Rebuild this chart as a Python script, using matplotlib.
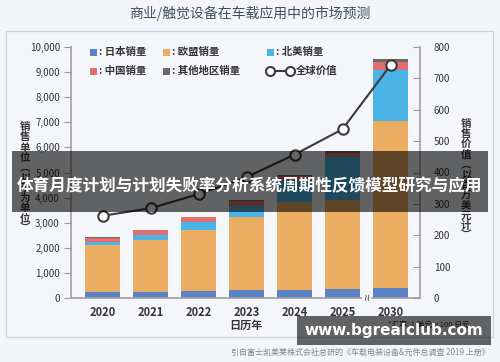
import matplotlib
matplotlib.use("Agg")
import matplotlib.pyplot as plt
from matplotlib.patches import Rectangle
from matplotlib.lines import Line2D
import numpy as np

plt.rcParams['font.family'] = ['Noto Sans CJK SC', 'DejaVu Sans']

years = ['2020', '2021', '2022', '2023', '2024', '2025', '2030']
japan = [250, 240, 290, 320, 330, 350, 410]
eu = [1850, 2080, 2430, 2900, 3490, 3550, 6640]
na = [150, 190, 310, 460, 900, 1700, 2030]
china = [160, 190, 180, 170, 130, 160, 310]
other = [20, 20, 20, 40, 50, 80, 150]
value = [262, 286, 331, 385, 457, 538, 742]

series_names = ['日本销量', '欧盟销量', '北美销量', '中国销量', '其他地区销量']
colors = ['#5b82c2', '#ebad62', '#4bb4e6', '#e06f6f', '#6a6a6a']
left_ticks = [0, 1000, 2000, 3000, 4000, 5000, 6000, 7000, 8000, 9000, 10000]
right_ticks = [0, 100, 200, 300, 400, 500, 600, 700, 800]

W, H = 500, 362
fig = plt.figure(figsize=(W / 100, H / 100), dpi=100)
bg = '#f3f5f8'
fig.patch.set_facecolor(bg)

def fx(px):
    return px / W

def fy(py):
    return 1 - py / H

# panel border
fig.add_artist(Rectangle((fx(6), fy(337)), fx(493) - fx(6), fy(31) - fy(337),
                         transform=fig.transFigure, facecolor='#f4f6f9',
                         edgecolor='#cfd3d8', lw=0.9, zorder=0))

fig.text(0.5, fy(13), '商业/触觉设备在车载应用中的市场预测', ha='center', va='center',
         fontsize=10, color='#3e4f62')

ax = fig.add_axes([fx(71), fy(298), fx(420) - fx(71), fy(47) - fy(298)])
ax.set_facecolor('none')
x = np.arange(len(years))
bw = 35 / 48
bottom = np.zeros(len(years))
for vals, c in zip([japan, eu, na, china, other], colors):
    ax.bar(x, vals, bw, bottom=bottom, color=c, edgecolor='none', zorder=2)
    bottom += np.array(vals)

ax.set_xlim((71 - 102.5) / 48, (420 - 102.5) / 48)
ax.set_ylim(0, 10000)
ax.set_yticks(left_ticks)
ax.set_yticklabels([f'{t:,}' for t in left_ticks])
ax.set_xticks(x)
ax.set_xticklabels(years, fontsize=8, color='#333333', fontweight='bold')
ax.tick_params(axis='x', length=0, pad=6)
ax.tick_params(axis='y', direction='out', length=5, color='#999999', labelsize=7,
               labelcolor='#333333', pad=3)
for s in ['top', 'right']:
    ax.spines[s].set_visible(False)
for s in ['left', 'bottom']:
    ax.spines[s].set_color('#a0a0a0')
    ax.spines[s].set_linewidth(1.2)

ax2 = ax.twinx()
ax2.set_ylim(0, 800)
ax2.set_yticks(right_ticks)
ax2.set_yticklabels([str(t) for t in right_ticks])
ax2.tick_params(axis='y', direction='in', length=5, color='#999999', labelsize=7,
                labelcolor='#333333', pad=10)
for s in ['top', 'left', 'bottom']:
    ax2.spines[s].set_visible(False)
ax2.spines['right'].set_color('#a0a0a0')
ax2.spines['right'].set_linewidth(1.2)
ax2.plot(x, value, color='#3a3a3a', lw=1.5, marker='o', ms=7.5, mfc='white',
         mec='#3a3a3a', mew=1.5, zorder=5)

# axis break marker
ax.text(5.5, 0, '≀≀', ha='center', va='center', fontsize=7, color='#444444',
        family='DejaVu Sans', zorder=6,
        bbox=dict(boxstyle='square,pad=0.05', fc=bg, ec='none'))

# vertical stacked labels
left_label = '销售单位︵以千为单位︶'
right_label = '销售价值︵以百万美元计︶'
fig.text(fx(25), fy(178), '\n'.join(left_label), ha='center', va='center',
         fontsize=7.5, color='#333333', linespacing=1.02, fontweight='bold')
fig.text(fx(466), fy(180), '\n'.join(right_label), ha='center', va='center',
         fontsize=7.5, color='#333333', linespacing=1.02, fontweight='bold')

fig.text(fx(246), fy(325), '日历年', ha='center', va='center', fontsize=8,
         color='#333333', fontweight='bold')
fig.text(fx(470), fy(325), '*汇率: 1 美元 = 100 日元', ha='right', va='center',
         fontsize=5.5, color='#333333')

# legend
leg_rows = [52, 71]
leg_cols = [90, 163, 267]
for i, (name, c) in enumerate(zip(series_names, colors)):
    r, col = divmod(i, 3)
    px, py = leg_cols[col], leg_rows[r]
    fig.add_artist(Rectangle((fx(px), fy(py + 3.5)), fx(7), 7 / H,
                             transform=fig.transFigure, facecolor=c, edgecolor='none'))
    fig.text(fx(px + 9), fy(py), ': ' + name, ha='left', va='center', fontsize=7.5,
             color='#333333', fontweight='bold')
fig.add_artist(Line2D([fx(270), fx(290)], [fy(71), fy(71)], transform=fig.transFigure,
                      color='#3a3a3a', lw=1.5, marker='o', ms=6.5, mfc='white',
                      mec='#3a3a3a', mew=1.5))
fig.text(fx(296), fy(71), '全球价值', ha='left', va='center', fontsize=7.5,
         color='#333333', fontweight='bold')

fig.text(fx(490), fy(352), '引自富士凯美莱株式会社总研的《车载电装设备&元件总调查 2019 上册》',
         ha='right', va='center', fontsize=5.8, color='#888888')

# overlay banners
fig.add_artist(Rectangle((fx(12), fy(212)), fx(488) - fx(12), fy(151) - fy(212),
                         transform=fig.transFigure, facecolor='black', alpha=0.6,
                         edgecolor='none', zorder=20))
fig.text(0.5, fy(186), '体育月度计划与计划失败率分析系统周期性反馈模型研究与应用',
         ha='center', va='center', fontsize=12.0, color='white', fontweight='bold',
         zorder=21)
fig.add_artist(Rectangle((fx(297), fy(345)), fx(491) - fx(297), fy(316) - fy(345),
                         transform=fig.transFigure, facecolor='black', alpha=0.6,
                         edgecolor='none', zorder=20))
fig.text(fx(394), fy(331), 'www.bgrealclub.com', ha='center', va='center',
         fontsize=11, color='white', fontweight='bold', family='DejaVu Sans', zorder=21)

fig.savefig('out.png', dpi=100, facecolor=fig.get_facecolor())
